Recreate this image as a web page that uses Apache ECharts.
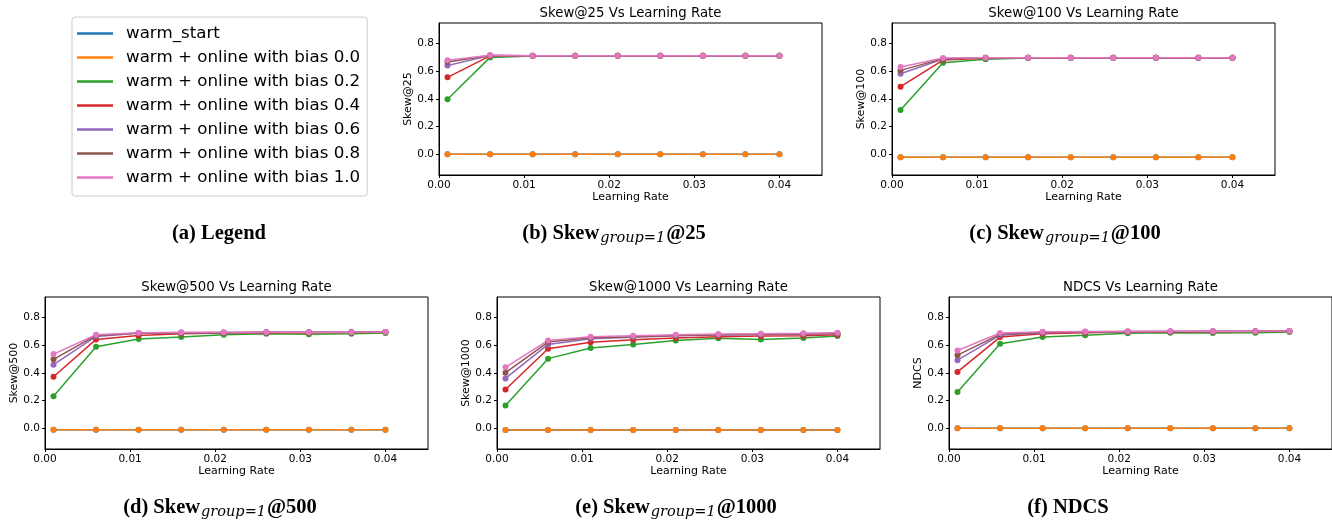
<!DOCTYPE html>
<html><head><meta charset="utf-8">
<script src="https://cdn.jsdelivr.net/npm/echarts@6/dist/echarts.min.js"></script>
<style>html,body{margin:0;padding:0;background:#fff}#c{width:1332px;height:520px}</style>
</head><body><div id="c"></div>
<script>
// ---------------- data ----------------
const learningRates = [0.001, 0.006, 0.011, 0.016, 0.021, 0.026, 0.031, 0.036, 0.040];
const seriesNames = ['warm_start', 'warm + online with bias 0.0', 'warm + online with bias 0.2',
  'warm + online with bias 0.4', 'warm + online with bias 0.6', 'warm + online with bias 0.8',
  'warm + online with bias 1.0'];
const xTickValues = [0, 0.01, 0.02, 0.03, 0.04];
const yTickValues = [0, 0.2, 0.4, 0.6, 0.8];
const plotTitles = ['Skew@25 Vs Learning Rate', 'Skew@100 Vs Learning Rate', 'Skew@500 Vs Learning Rate',
  'Skew@1000 Vs Learning Rate', 'NDCS Vs Learning Rate'];
const yLabels = ['Skew@25', 'Skew@100', 'Skew@500', 'Skew@1000', 'NDCS'];
const captionLetters = ['(b)', '(c)', '(d)', '(e)', '(f)'];
const captionSuffix = ['@25', '@100', '@500', '@1000', ''];

// rows follow seriesNames order
const skew25 = [
  [0, 0, 0, 0, 0, 0, 0, 0, 0],
  [0, 0, 0, 0, 0, 0, 0, 0, 0],
  [0.398, 0.701, 0.711, 0.713, 0.713, 0.713, 0.713, 0.713, 0.713],
  [0.557, 0.712, 0.713, 0.713, 0.713, 0.713, 0.713, 0.713, 0.713],
  [0.643, 0.714, 0.713, 0.713, 0.713, 0.713, 0.713, 0.713, 0.713],
  [0.667, 0.715, 0.713, 0.713, 0.713, 0.713, 0.713, 0.713, 0.713],
  [0.680, 0.716, 0.713, 0.713, 0.713, 0.713, 0.713, 0.713, 0.713]
];
const skew100 = [
  [-0.022, -0.022, -0.022, -0.022, -0.022, -0.022, -0.022, -0.022, -0.022],
  [-0.022, -0.022, -0.022, -0.022, -0.022, -0.022, -0.022, -0.022, -0.022],
  [0.320, 0.663, 0.687, 0.696, 0.698, 0.699, 0.699, 0.699, 0.699],
  [0.489, 0.682, 0.694, 0.698, 0.699, 0.699, 0.699, 0.699, 0.699],
  [0.583, 0.690, 0.698, 0.699, 0.699, 0.699, 0.699, 0.699, 0.699],
  [0.607, 0.692, 0.699, 0.699, 0.699, 0.699, 0.699, 0.699, 0.699],
  [0.631, 0.696, 0.699, 0.699, 0.699, 0.699, 0.699, 0.699, 0.699]
];
const skew500 = [
  [-0.010, -0.010, -0.010, -0.010, -0.010, -0.010, -0.010, -0.010, -0.010],
  [-0.010, -0.010, -0.010, -0.010, -0.010, -0.010, -0.010, -0.010, -0.010],
  [0.231, 0.590, 0.646, 0.660, 0.677, 0.684, 0.680, 0.684, 0.689],
  [0.373, 0.643, 0.672, 0.684, 0.689, 0.692, 0.692, 0.693, 0.695],
  [0.460, 0.665, 0.687, 0.690, 0.692, 0.694, 0.694, 0.695, 0.696],
  [0.499, 0.672, 0.689, 0.692, 0.693, 0.694, 0.695, 0.695, 0.696],
  [0.537, 0.677, 0.692, 0.694, 0.694, 0.695, 0.695, 0.695, 0.696]
];
const skew1000 = [
  [-0.012, -0.012, -0.012, -0.012, -0.012, -0.012, -0.012, -0.012, -0.012],
  [-0.012, -0.012, -0.012, -0.012, -0.012, -0.012, -0.012, -0.012, -0.012],
  [0.164, 0.504, 0.581, 0.607, 0.636, 0.651, 0.643, 0.653, 0.667],
  [0.280, 0.576, 0.622, 0.641, 0.653, 0.663, 0.667, 0.670, 0.677],
  [0.361, 0.607, 0.648, 0.658, 0.670, 0.675, 0.678, 0.681, 0.686],
  [0.402, 0.624, 0.655, 0.663, 0.672, 0.677, 0.680, 0.684, 0.688],
  [0.441, 0.636, 0.663, 0.670, 0.677, 0.682, 0.684, 0.687, 0.692]
];
const ndcs = [
  [0, 0, 0, 0, 0, 0, 0, 0, 0],
  [0, 0, 0, 0, 0, 0, 0, 0, 0],
  [0.263, 0.611, 0.660, 0.673, 0.688, 0.692, 0.690, 0.692, 0.697],
  [0.408, 0.660, 0.684, 0.692, 0.696, 0.698, 0.699, 0.700, 0.702],
  [0.493, 0.674, 0.692, 0.697, 0.699, 0.700, 0.701, 0.702, 0.703],
  [0.529, 0.680, 0.695, 0.699, 0.700, 0.701, 0.702, 0.703, 0.704],
  [0.563, 0.689, 0.698, 0.700, 0.701, 0.702, 0.703, 0.703, 0.704]
];
const allPlots = [skew25, skew100, skew500, skew1000, ndcs];

// ---------------- styling / layout ----------------
const colors = ['#1f77b4', '#ff7f0e', '#2ca02c', '#d62728', '#9467bd', '#8c564b', '#e377c2'];
const layouts = [
  {left: 439, top: 23}, {left: 892, top: 23},
  {left: 45, top: 297}, {left: 497, top: 297}, {left: 949, top: 297}
];
const GW = 383, GH = 152;
const captionPos = [
  {x: 614, y: 222}, {x: 1065, y: 222}, {x: 220, y: 496}, {x: 676, y: 496}, {x: 1068, y: 496}
];
const SANS = 'DejaVu Sans';
const SERIF = 'Liberation Serif';
const richCaption = {
  b: {fontFamily: SERIF, fontWeight: 'bold', fontSize: 20.5, color: '#000', lineHeight: 24},
  s: {fontFamily: 'DejaVu Serif', fontStyle: 'italic', fontWeight: 'normal', fontSize: 14.5, color: '#000',
      lineHeight: 11, verticalAlign: 'bottom', padding: [0, 1, 0, 1]}
};

const grids = [], xAxes = [], yAxes = [], series = [], titles = [];
layouts.forEach((L, i) => {
  grids.push({left: L.left, top: L.top, width: GW, height: GH, show: true,
    borderColor: '#000', borderWidth: 1, backgroundColor: 'transparent', containLabel: false});
  xAxes.push({
    type: 'value', gridIndex: i, min: 0, max: 0.045,
    name: 'Learning Rate', nameLocation: 'middle', nameGap: 17,
    nameTextStyle: {fontFamily: SANS, fontSize: 11, color: '#000'},
    axisLine: {show: true, onZero: false, lineStyle: {color: '#000', width: 1}},
    axisTick: {show: true, length: 3, lineStyle: {color: '#000'}, customValues: xTickValues},
    axisLabel: {fontFamily: SANS, fontSize: 10.5, color: '#000', margin: 5, customValues: xTickValues,
      formatter: v => v.toFixed(2)},
    splitLine: {show: false}
  });
  yAxes.push({
    type: 'value', gridIndex: i, min: -0.15, max: 0.95,
    name: yLabels[i], nameLocation: 'middle', nameGap: 16, nameRotate: 90,
    nameTextStyle: {fontFamily: SANS, fontSize: 11, color: '#000'},
    axisLine: {show: true, onZero: false, lineStyle: {color: '#000', width: 1}},
    axisTick: {show: true, length: 3, lineStyle: {color: '#000'}, customValues: yTickValues},
    axisLabel: {fontFamily: SANS, fontSize: 10.5, color: '#000', margin: 5, customValues: yTickValues,
      formatter: v => v.toFixed(1)},
    splitLine: {show: false}
  });
  titles.push({
    text: plotTitles[i], left: L.left + GW / 2, top: L.top - 16, textAlign: 'center', padding: 0,
    textStyle: {fontFamily: SANS, fontSize: 13.3, fontWeight: 'normal', color: '#000'}
  });
  const cap = captionSuffix[i]
    ? '{b|' + captionLetters[i] + ' Skew}{s|group=1}{b|' + captionSuffix[i] + '}'
    : '{b|' + captionLetters[i] + ' NDCS}';
  titles.push({
    text: cap, left: captionPos[i].x, top: captionPos[i].y, textAlign: 'center', padding: 0,
    textStyle: {fontWeight: 'normal', rich: richCaption}
  });
  const data = allPlots[i];
  seriesNames.forEach((name, k) => {
    series.push({
      type: 'line', name: name, xAxisIndex: i, yAxisIndex: i,
      data: learningRates.map((x, j) => [x, data[k][j]]),
      symbol: 'circle', symbolSize: 6, showSymbol: true,
      lineStyle: {width: 1.5, color: colors[k]},
      itemStyle: {color: colors[k]},
      emphasis: {disabled: true}, animation: false
    });
  });
});
titles.push({
  text: '{b|(a) Legend}', left: 219, top: 222, textAlign: 'center', padding: 0,
  textStyle: {fontWeight: 'normal', rich: richCaption}
});

const chart = echarts.init(document.getElementById('c'), null, {renderer: 'canvas'});
chart.setOption({
  backgroundColor: '#fff',
  animation: false,
  title: titles,
  legend: {
    data: seriesNames, orient: 'vertical', left: 72, top: 17,
    padding: [4.5, 7, 6.5, 5], itemGap: 0, itemWidth: 36, itemHeight: 2.5, icon: 'rect',
    backgroundColor: '#fff', borderColor: '#cccccc', borderWidth: 1, borderRadius: 3,
    textStyle: {fontFamily: SANS, fontSize: 16.7, color: '#000', lineHeight: 24, padding: [0, 0, 0, 8]},
    selectedMode: false
  },
  grid: grids, xAxis: xAxes, yAxis: yAxes, series: series
});
</script>
</body></html>
